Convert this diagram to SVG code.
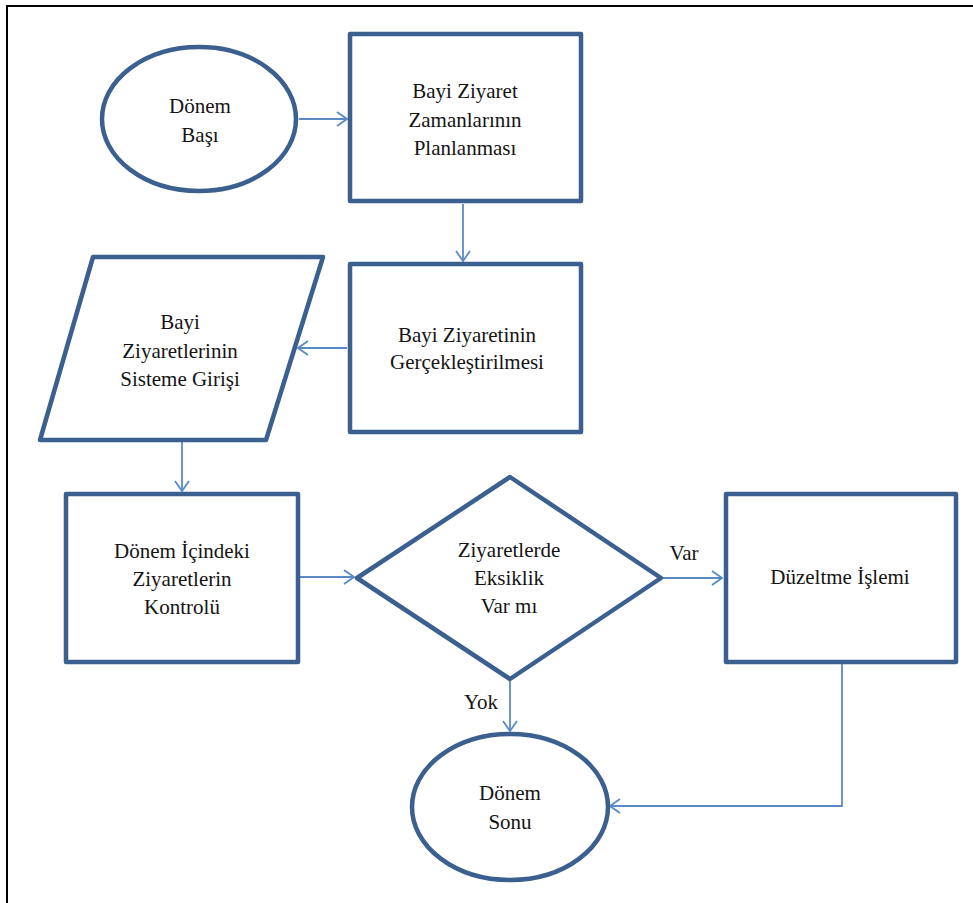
<svg xmlns="http://www.w3.org/2000/svg" width="973" height="903" viewBox="0 0 973 903">
  <style>
    .shape { fill: #ffffff; stroke: #3b5f8e; stroke-width: 4.5; stroke-linejoin: round; }
    .conn { fill: none; stroke: #5b8bc6; stroke-width: 1.8; }
    .label { font-family: "Liberation Serif", "Times New Roman", serif; font-size: 21px; fill: #141414; text-anchor: middle; }
    .frame { stroke: #000000; stroke-width: 2; fill: none; }
  </style>
  <defs>
    <marker id="open-arrow" viewBox="0 0 12 16" refX="11" refY="8" markerWidth="12" markerHeight="16" markerUnits="userSpaceOnUse" orient="auto">
      <path d="M1 1 L11 8 L1 15" fill="none" stroke="#5b8bc6" stroke-width="1.8"/>
    </marker>
  </defs>

  <rect width="973" height="903" fill="#ffffff"/>
  <!-- page frame: top and left edges only -->
  <path class="frame" d="M7 903 L7 6 L973 6"/>

  <g id="connectors">
    <line class="conn" x1="299" y1="119" x2="347" y2="119" marker-end="url(#open-arrow)"/>
    <line class="conn" x1="463" y1="204" x2="463" y2="261" marker-end="url(#open-arrow)"/>
    <line class="conn" x1="347" y1="348" x2="298" y2="348" marker-end="url(#open-arrow)"/>
    <line class="conn" x1="182" y1="442" x2="182" y2="491" marker-end="url(#open-arrow)"/>
    <line class="conn" x1="300" y1="577" x2="354" y2="577" marker-end="url(#open-arrow)"/>
    <line class="conn" x1="663" y1="578" x2="722" y2="578" marker-end="url(#open-arrow)"/>
    <line class="conn" x1="510" y1="681" x2="510" y2="731" marker-end="url(#open-arrow)"/>
    <polyline class="conn" points="842,664 842,806 610,806" marker-end="url(#open-arrow)"/>
    <text class="label" x="684" y="560">Var</text>
    <text class="label" x="481" y="709">Yok</text>
  </g>

  <g id="donem-basi">
    <ellipse class="shape" cx="199" cy="119" rx="97" ry="72"/>
    <text class="label" x="200" y="113">Dönem</text>
    <text class="label" x="200" y="142">Başı</text>
  </g>

  <g id="ziyaret-planlama">
    <rect class="shape" x="350" y="34" width="231" height="167"/>
    <text class="label" x="465" y="98">Bayi Ziyaret</text>
    <text class="label" x="465" y="127">Zamanlarının</text>
    <text class="label" x="465" y="155">Planlanması</text>
  </g>

  <g id="ziyaret-gerceklestirme">
    <rect class="shape" x="350" y="264" width="231" height="168"/>
    <text class="label" x="467" y="342">Bayi Ziyaretinin</text>
    <text class="label" x="467" y="369">Gerçekleştirilmesi</text>
  </g>

  <g id="sisteme-giris">
    <polygon class="shape" points="93,257 323,257 266,440 40,440"/>
    <text class="label" x="180" y="329">Bayi</text>
    <text class="label" x="180" y="358">Ziyaretlerinin</text>
    <text class="label" x="180" y="386">Sisteme Girişi</text>
  </g>

  <g id="ziyaret-kontrol">
    <rect class="shape" x="66" y="494" width="232" height="168"/>
    <text class="label" x="182" y="558">Dönem İçindeki</text>
    <text class="label" x="182" y="586">Ziyaretlerin</text>
    <text class="label" x="182" y="614">Kontrolü</text>
  </g>

  <g id="eksiklik-karar">
    <polygon class="shape" points="510,477 661,578 510,679 357,578"/>
    <text class="label" x="509" y="557">Ziyaretlerde</text>
    <text class="label" x="509" y="585">Eksiklik</text>
    <text class="label" x="509" y="613">Var mı</text>
  </g>

  <g id="duzeltme">
    <rect class="shape" x="726" y="494" width="230" height="168"/>
    <text class="label" x="840" y="584">Düzeltme İşlemi</text>
  </g>

  <g id="donem-sonu">
    <ellipse class="shape" cx="510" cy="807" rx="98" ry="73"/>
    <text class="label" x="510" y="800">Dönem</text>
    <text class="label" x="510" y="829">Sonu</text>
  </g>
</svg>
